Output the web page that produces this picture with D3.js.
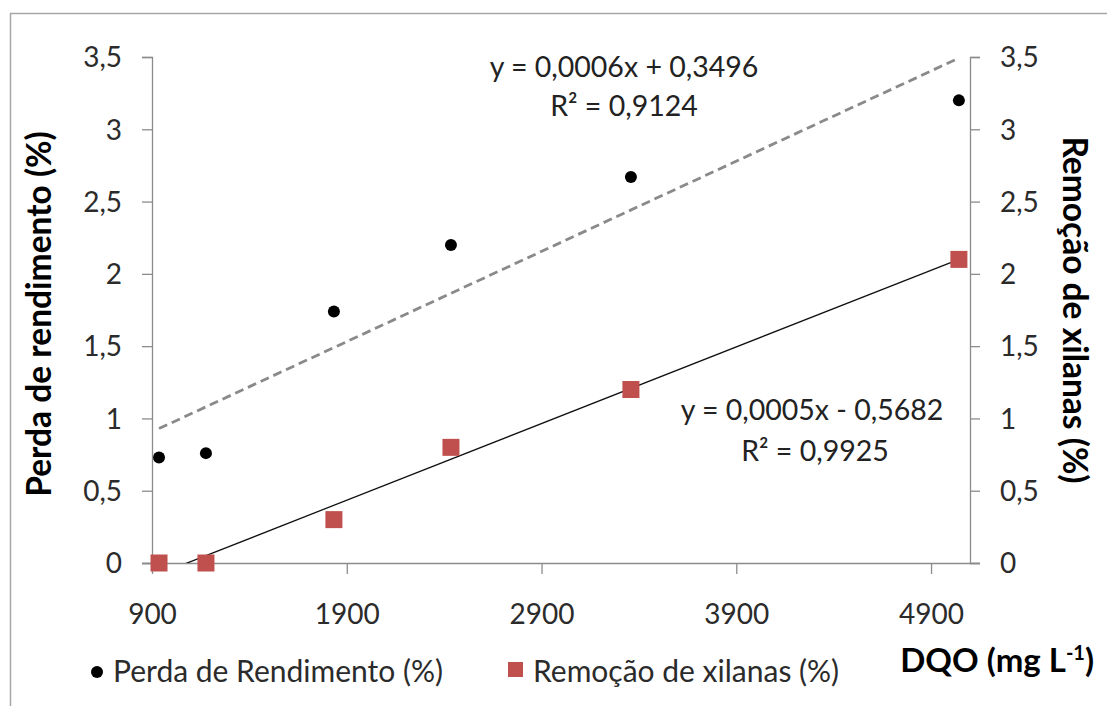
<!DOCTYPE html>
<html>
<head>
<meta charset="utf-8">
<script src="https://cdn.jsdelivr.net/npm/d3@7"></script>
<style>
  html, body { margin: 0; padding: 0; background: #fff; }
  svg { display: block; }
  text { font-family: Lato, "Open Sans", sans-serif; }
</style>
</head>
<body>
<svg id="chart" width="1107" height="706"></svg>
<script>
// ---- data ----
const dqo = [936, 1177, 1834, 2435, 3359, 5043];
const perdaRendimento = [0.73, 0.76, 1.74, 2.2, 2.67, 3.2];
const remocaoXilanas = [0, 0, 0.3, 0.8, 1.2, 2.1];
const xTicks = [900, 1900, 2900, 3900, 4900];
const yTicks = [0, 0.5, 1, 1.5, 2, 2.5, 3, 3.5];
const eqPerda = ["y = 0,0006x + 0,3496", "R² = 0,9124"];
const eqRemocao = ["y = 0,0005x - 0,5682", "R² = 0,9925"];
const legendLabels = ["Perda de Rendimento (%)", "Remoção de xilanas (%)"];
const yTitleLeft = "Perda de rendimento (%)";
const yTitleRight = "Remoção de xilanas (%)";

const svg = d3.select("#chart");
const W = 1107, H = 706;
const plot = { left: 152, right: 970, top: 57, bottom: 563 };

const x = d3.scaleLinear().domain([900, 5100]).range([plot.left, plot.right]);
const y = d3.scaleLinear().domain([0, 3.5]).range([plot.bottom, plot.top]);
const loc = d3.formatLocale({ decimal: ",", thousands: ".", grouping: [3], currency: ["", ""] });
const fy = v => loc.format("~g")(v);

const axisColor = "#8c8c8c";
const labelColor = "#2b2b2b";

// chart border (top and left visible)
svg.append("path")
  .attr("d", `M10.5,${H + 2} L10.5,13.5 L${W + 2},13.5`)
  .attr("fill", "none").attr("stroke", "#a6a6a6").attr("stroke-width", 1.5);

// clip path
svg.append("clipPath").attr("id", "clip")
  .append("rect").attr("x", plot.left).attr("y", plot.top - 5)
  .attr("width", plot.right - plot.left).attr("height", plot.bottom - plot.top + 5);

// axes
const gx = svg.append("g").attr("transform", `translate(0,${plot.bottom})`)
  .call(d3.axisBottom(x).tickValues(xTicks).tickSize(11).tickFormat(d3.format("d")));
const gyl = svg.append("g").attr("transform", `translate(${plot.left},0)`)
  .call(d3.axisLeft(y).tickValues(yTicks).tickSize(10).tickFormat(fy));
const gyr = svg.append("g").attr("transform", `translate(${plot.right},0)`)
  .call(d3.axisRight(y).tickValues(yTicks).tickSize(10).tickFormat(fy));

[gx, gyl, gyr].forEach(g => {
  g.select(".domain").attr("stroke", axisColor).attr("stroke-width", 1.3);
  g.selectAll(".tick line").attr("stroke", axisColor).attr("stroke-width", 1.3);
  g.selectAll(".tick text").attr("fill", labelColor)
    .style("font-family", "Lato, sans-serif").style("font-size", "28px");
});
// extend x axis line to the left tick area
gx.select(".domain").attr("d", `M${plot.left - 10},0.5H${plot.right + 10}`);
gx.selectAll(".tick text").attr("y", 61).attr("dy", 0);
gyl.selectAll(".tick text").attr("x", -30).attr("dy", "0.35em");
gyr.selectAll(".tick text").attr("x", 30).attr("dy", "0.35em");

// linear regression helper
function linreg(xs, ys) {
  const n = xs.length;
  const mx = d3.mean(xs), my = d3.mean(ys);
  let sxy = 0, sxx = 0;
  for (let i = 0; i < n; i++) { sxy += (xs[i] - mx) * (ys[i] - my); sxx += (xs[i] - mx) ** 2; }
  const b = sxy / sxx;
  return { b, a: my - b * mx };
}
const r1 = linreg(dqo, perdaRendimento);
const r2 = linreg(dqo, remocaoXilanas);
const xMin = d3.min(dqo), xMax = d3.max(dqo);
const line = d3.line().x(d => x(d[0])).y(d => y(d[1]));

const gTrend = svg.append("g").attr("clip-path", "url(#clip)");
gTrend.append("path")
  .attr("d", line([[xMin, r1.a + r1.b * xMin], [xMax, r1.a + r1.b * xMax]]))
  .attr("stroke", "#8a8a8a").attr("stroke-width", 2.8).attr("stroke-dasharray", "9,5").attr("fill", "none");
gTrend.append("path")
  .attr("d", line([[xMin, r2.a + r2.b * xMin], [xMax, r2.a + r2.b * xMax]]))
  .attr("stroke", "#111").attr("stroke-width", 1.3).attr("fill", "none");

// points
const pts = dqo.map((d, i) => ({ x: d, p: perdaRendimento[i], r: remocaoXilanas[i] }));
const sq = 17;
svg.append("g").selectAll("rect").data(pts).join("rect")
  .attr("x", d => x(d.x) - sq / 2).attr("y", d => y(d.r) - sq / 2)
  .attr("width", sq).attr("height", sq).attr("fill", "#c0504d");
svg.append("g").selectAll("circle").data(pts).join("circle")
  .attr("cx", d => x(d.x)).attr("cy", d => y(d.p)).attr("r", 6).attr("fill", "#000");

// equations
const eqStyle = sel => sel.attr("text-anchor", "middle").attr("fill", "#222")
  .style("font-size", "28.5px");
svg.append("text").call(eqStyle).attr("x", 624).attr("y", 77).text(eqPerda[0]);
svg.append("text").call(eqStyle).attr("x", 624).attr("y", 116).text(eqPerda[1]);
svg.append("text").call(eqStyle).attr("x", 812).attr("y", 420).text(eqRemocao[0]);
svg.append("text").call(eqStyle).attr("x", 815).attr("y", 461).text(eqRemocao[1]);

// axis titles
svg.append("text")
  .attr("transform", `translate(51,${(123 + 505) / 2}) rotate(-90)`)
  .attr("text-anchor", "middle").attr("font-weight", "bold").style("font-size", "33.5px")
  .attr("fill", "#000").text(yTitleLeft);
svg.append("text")
  .attr("transform", `translate(1063,${(130 + 490) / 2}) rotate(90)`)
  .attr("text-anchor", "middle").attr("font-weight", "bold").style("font-size", "33.5px")
  .attr("fill", "#000").text(yTitleRight);
const xt = svg.append("text").attr("x", 1094).attr("y", 672)
  .attr("text-anchor", "end").attr("font-weight", "bold").style("font-size", "33px").attr("fill", "#000");
xt.append("tspan").text("DQO (mg L");
xt.append("tspan").attr("dy", -12).style("font-size", "20px").text("-1");
xt.append("tspan").attr("dy", 12).text(")");

// legend
const lg = svg.append("g");
lg.append("circle").attr("cx", 97).attr("cy", 672).attr("r", 6).attr("fill", "#000");
lg.append("text").attr("x", 113).attr("y", 682).attr("fill", labelColor)
  .style("font-size", "30px").text(legendLabels[0]);
lg.append("rect").attr("x", 508).attr("y", 662).attr("width", 15).attr("height", 15).attr("fill", "#c0504d");
lg.append("text").attr("x", 533).attr("y", 682).attr("fill", labelColor)
  .style("font-size", "30px").text(legendLabels[1]);
</script>
</body>
</html>
